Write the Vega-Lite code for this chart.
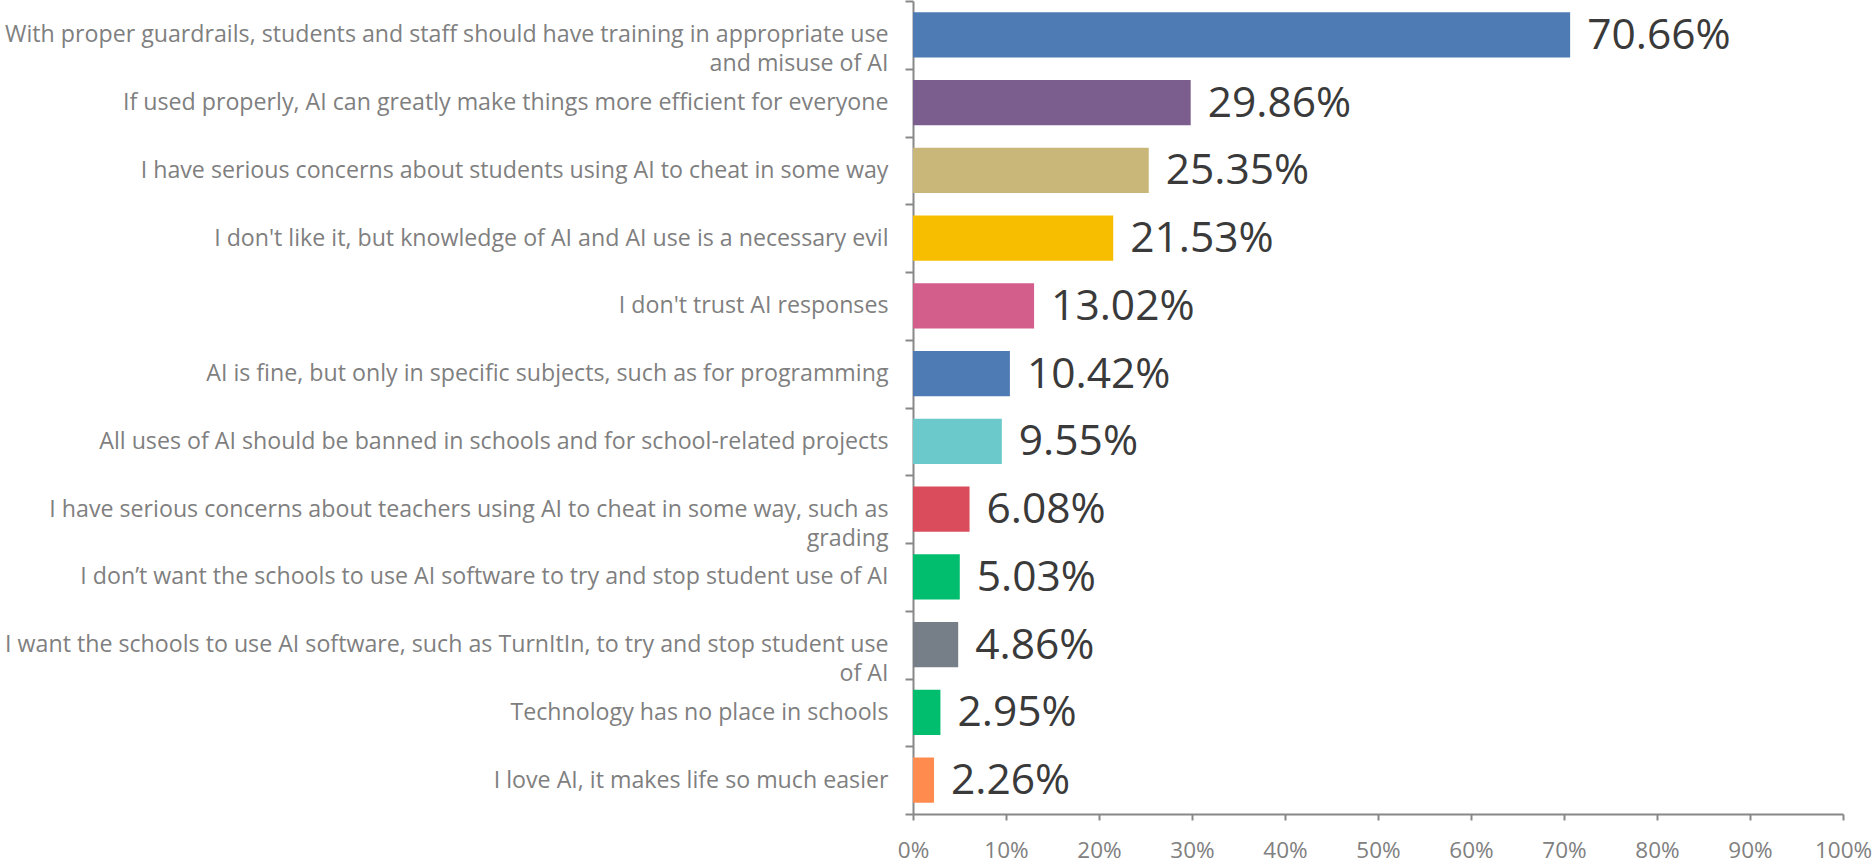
{
  "$schema": "https://vega.github.io/schema/vega-lite/v6.json",
  "autosize": {"type": "none"},
  "padding": {"left": 913, "top": 1, "right": 31, "bottom": 51},
  "width": 930,
  "height": 813,
  "background": "white",
  "config": {"view": {"stroke": null}},
  "data": {
    "values": [
      {"label": "With proper guardrails, students and staff should have training in appropriate use\nand misuse of AI", "value": 0.7066},
      {"label": "If used properly, AI can greatly make things more efficient for everyone", "value": 0.2986},
      {"label": "I have serious concerns about students using AI to cheat in some way", "value": 0.2535},
      {"label": "I don't like it, but knowledge of AI and AI use is a necessary evil", "value": 0.2153},
      {"label": "I don't trust AI responses", "value": 0.1302},
      {"label": "AI is fine, but only in specific subjects, such as for programming", "value": 0.1042},
      {"label": "All uses of AI should be banned in schools and for school-related projects", "value": 0.0955},
      {"label": "I have serious concerns about teachers using AI to cheat in some way, such as\ngrading", "value": 0.0608},
      {"label": "I don’t want the schools to use AI software to try and stop student use of AI", "value": 0.0503},
      {"label": "I want the schools to use AI software, such as TurnItIn, to try and stop student use\nof AI", "value": 0.0486},
      {"label": "Technology has no place in schools", "value": 0.0295},
      {"label": "I love AI, it makes life so much easier", "value": 0.0226}
    ]
  },
  "encoding": {
    "y": {
      "field": "label",
      "type": "nominal",
      "sort": null,
      "scale": {"paddingInner": 0, "paddingOuter": 0},
      "axis": {
        "title": null,
        "labelExpr": "split(datum.label, '\\n')",
        "labelFont": "Open Sans",
        "labelFontSize": 23.2,
        "labelColor": "#7f7f7f",
        "labelLineHeight": 29,
        "labelPadding": 17,
        "labelLimit": 0,
        "tickBand": "extent",
        "tickSize": 8,
        "tickColor": "#888888",
        "tickWidth": 2,
        "domainColor": "#888888",
        "domainWidth": 2
      }
    },
    "x": {
      "field": "value",
      "type": "quantitative",
      "scale": {"domain": [0, 1], "nice": false},
      "axis": {
        "title": null,
        "values": [0, 0.1, 0.2, 0.3, 0.4, 0.5, 0.6, 0.7, 0.8, 0.9, 1],
        "format": ".0%",
        "grid": false,
        "labelFont": "Open Sans",
        "labelFontSize": 22.5,
        "labelColor": "#808080",
        "labelPadding": 19,
        "tickSize": 6,
        "tickColor": "#888888",
        "tickWidth": 2,
        "domainColor": "#888888",
        "domainWidth": 2,
        "labelFlush": false
      }
    }
  },
  "layer": [
    {
      "mark": {"type": "bar", "height": {"band": 0.67}},
      "encoding": {
        "color": {
          "field": "label",
          "type": "nominal",
          "legend": null,
          "sort": null,
          "scale": {
            "domain": [
              "With proper guardrails, students and staff should have training in appropriate use\nand misuse of AI",
              "If used properly, AI can greatly make things more efficient for everyone",
              "I have serious concerns about students using AI to cheat in some way",
              "I don't like it, but knowledge of AI and AI use is a necessary evil",
              "I don't trust AI responses",
              "AI is fine, but only in specific subjects, such as for programming",
              "All uses of AI should be banned in schools and for school-related projects",
              "I have serious concerns about teachers using AI to cheat in some way, such as\ngrading",
              "I don’t want the schools to use AI software to try and stop student use of AI",
              "I want the schools to use AI software, such as TurnItIn, to try and stop student use\nof AI",
              "Technology has no place in schools",
              "I love AI, it makes life so much easier"
            ],
            "range": ["#4E7BB4", "#7B5E8E", "#C9B77A", "#F7BE00", "#D35E8C", "#4E7BB4", "#6BC9CC", "#DA4C5C", "#00BE6E", "#767E87", "#00BE6E", "#FF8B4F"]
          }
        }
      }
    },
    {
      "mark": {"type": "text", "align": "left", "baseline": "middle", "dx": 17, "dy": 1, "font": "Open Sans", "fontSize": 42.5, "color": "#3a3a3a"},
      "encoding": {
        "text": {"field": "value", "type": "quantitative", "format": ".2%"}
      }
    }
  ]
}
